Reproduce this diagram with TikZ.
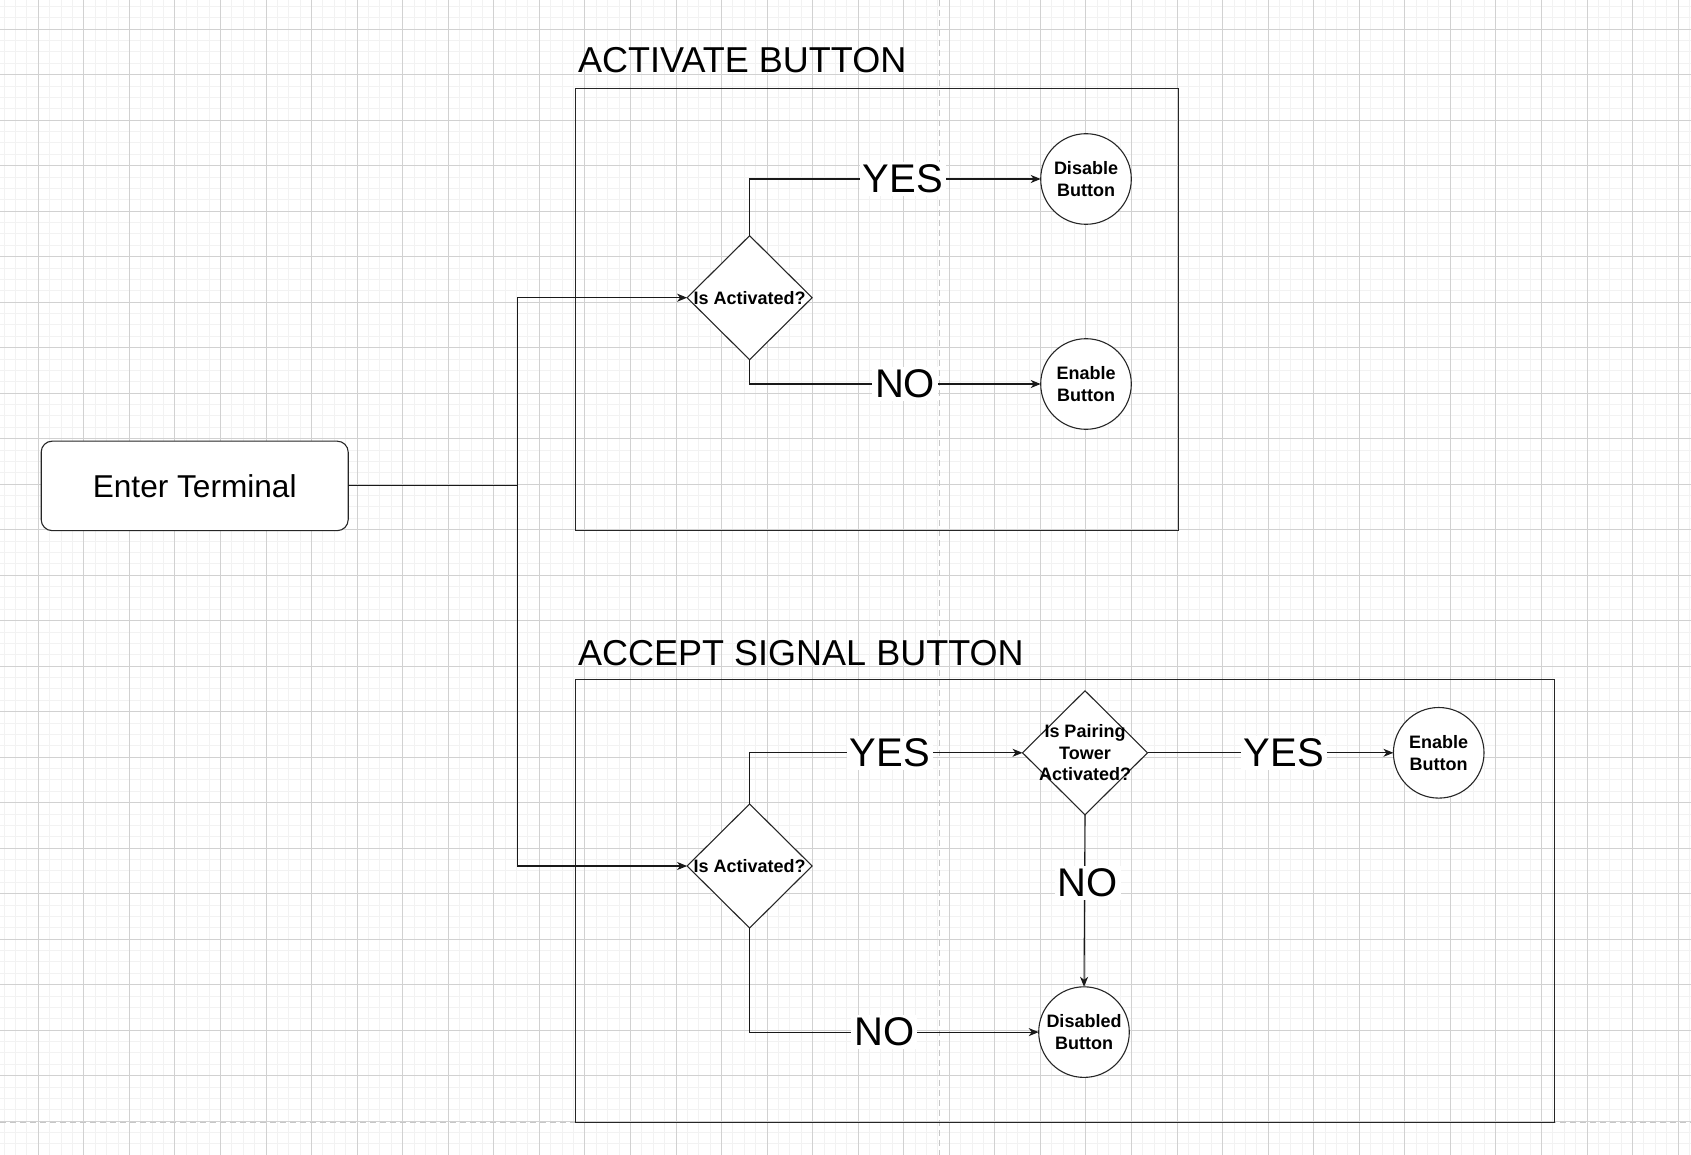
\documentclass[tikz,border=0pt]{standalone}
\usepackage{fontspec}
\setmainfont{Liberation Sans}
\usetikzlibrary{shapes.geometric,arrows.meta}
\tikzset{
  minorgrid/.style={draw=black!5, line width=1pt},
  majorgrid/.style={draw=black!18, line width=1pt},
  pagebreak/.style={draw=black!22, line width=1.3pt, dash pattern=on 6pt off 4pt},
  conn/.style={draw=black!90, line width=1.1pt},
  arr/.style={conn, -{Stealth[length=10pt,width=8pt,inset=3pt]}},
  dia/.style={diamond, draw=black!85, fill=white, line width=1.1pt, minimum width=125pt, minimum height=124pt, inner sep=0pt, outer sep=0pt},
  circ/.style={circle, draw=black!85, fill=white, line width=1.1pt, minimum size=90.6pt, inner sep=0pt, outer sep=0pt},
  ctext/.style={font=\bfseries\fontsize{18}{21.6}\selectfont, align=center, inner sep=0pt},
  lbl/.style={fill=white, inner sep=3pt, font=\fontsize{40}{48}\selectfont},
  titletext/.style={anchor=base west, inner sep=0pt, font=\fontsize{36}{43}\selectfont},
  framebox/.style={draw=black!85, line width=1.1pt, inner sep=0pt, outer sep=0pt},
  term/.style={draw=black!85, fill=white, line width=1.1pt, rounded corners=11pt, minimum width=307pt, minimum height=89.5pt, inner sep=0pt, outer sep=0pt, font=\fontsize{31.6}{38}\selectfont},
}
\begin{document}
\begin{tikzpicture}[x=1pt,y=-1pt]
\path[use as bounding box] (0,0) rectangle (1691,1155);
\clip (0,0) rectangle (1691,1155);
\fill[white] (0,0) rectangle (1691,1155);
% grid
\foreach \i in {0,...,150} {\draw[minorgrid] ({-7.25+\i*11.3875},0) -- ({-7.25+\i*11.3875},1155);}
\foreach \i in {0,...,103} {\draw[minorgrid] (0,{-4.9+\i*11.375}) -- (1691,{-4.9+\i*11.375});}
\foreach \k in {0,...,36} {\draw[majorgrid] ({38.3+\k*45.55},0) -- ({38.3+\k*45.55},1155);}
\foreach \k in {0,...,24} {\draw[majorgrid] (0,{29.3+\k*45.5}) -- (1691,{29.3+\k*45.5});}
% page breaks
\draw[pagebreak] (939.4,0) -- (939.4,1155);
\draw[pagebreak] (0,1122.7) -- (1691,1122.7);

% frames
\node[framebox, minimum width=602.9pt, minimum height=442.2pt] (f1) at (877.35,309.5) {};
\node[framebox, minimum width=978.2pt, minimum height=443.2pt] (f2) at (1065,901.1) {};
\node[titletext] (t1) at (578,72.5) {ACTIVATE BUTTON};
\node[titletext] (t2) at (578,665) {ACCEPT SIGNAL BUTTON};

% nodes
\node[term] (et) at (194.7,485.9) {Enter Terminal};
\coordinate (j) at (517.7,485.9);

\node[dia, label={[ctext]center:Is Activated?}] (d1) at (749.6,297.7) {};
\node[circ] (c1) at (1086,179) {};
\node[ctext] (c1t) at (c1) {Disable\\Button};
\node[circ] (c2) at (1086,384) {};
\node[ctext] (c2t) at (c2) {Enable\\Button};

\node[dia, label={[ctext]center:Is Activated?}] (d2) at (749.6,866) {};
\node[dia] (d3) at (1085,752.8) {};
\node[ctext] (d3t) at (d3) {Is Pairing\\Tower\\Activated?};
\node[circ] (c3) at (1438.7,752.8) {};
\node[ctext] (c3t) at (c3) {Enable\\Button};
\node[circ] (c4) at (1084,1032.1) {};
\node[ctext] (c4t) at (c4) {Disabled\\Button};

% connectors
\draw[conn] (et.east) -- (j);
\draw[arr] (j) |- (d1.west);
\draw[arr] (j) |- (d2.west);

\draw[arr] (d1.north) |- (c1.west) node[lbl, pos=0.763] (y1) {YES};
\draw[arr] (d1.south) |- (c2.west) node[lbl, pos=0.767] (n1) {NO};

\draw[arr] (d2.north) |- (d3.west) node[lbl, pos=0.757] (y2) {YES};
\draw[arr] (d2.south) |- (c4.west) node[lbl, pos=0.733] (n2) {NO};
\draw[arr] (d3.east) -- (c3.west) node[lbl, pos=0.555] (y3) {YES};
\draw[arr] (d3.south) -- (c4.north) node[lbl, pos=0.395, xshift=3pt] (n3) {NO};
\end{tikzpicture}
\end{document}
